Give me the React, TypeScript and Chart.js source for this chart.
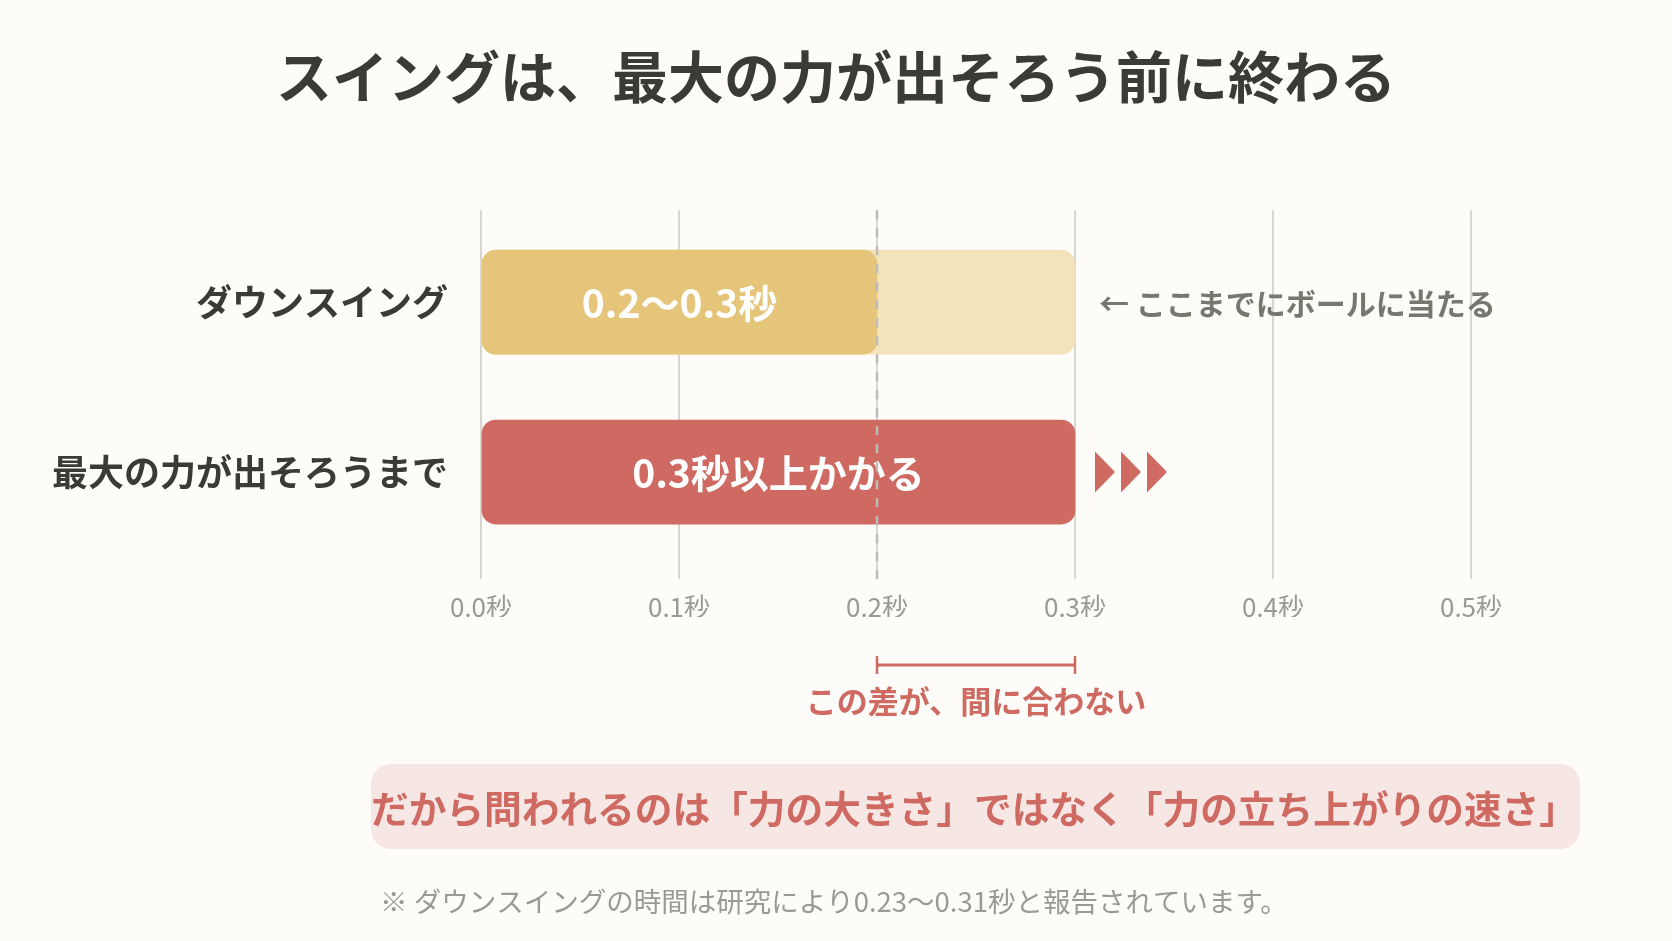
import React, { useEffect, useRef } from 'react';
import { Chart, registerables } from 'chart.js';

Chart.register(...registerables);

const FONT = "'Noto Sans CJK JP', 'Noto Sans', sans-serif";

// ---- data ----
const titleText = 'スイングは、最大の力が出そろう前に終わる';
const categories = ['ダウンスイング', '最大の力が出そろうまで'];
const mainValues = [0.2, 0.3];
const extentValues: (number | null)[] = [0.3, null];
const barLabels = ['0.2〜0.3秒', '0.3秒以上かかる'];
const xMin = 0;
const xMax = 0.5;
const xStep = 0.1;
const tickSuffix = '秒';
const hitLineValue = 0.2;
const gapRange = [0.2, 0.3];
const gapLabel = 'この差が、間に合わない';
const hitNote = '← ここまでにボールに当たる';
const messageText = 'だから問われるのは「力の大きさ」ではなく「力の立ち上がりの速さ」';
const footnoteText = '※ ダウンスイングの時間は研究により0.23〜0.31秒と報告されています。';
const arrowCount = 3;

// ---- styles ----
const BG = '#FDFCF8';
const DARK = '#3A3A36';
const YELLOW = '#E5C57A';
const LIGHT_YELLOW = '#F3E3BB';
const RED = '#CF6A62';
const GRID = '#D8D6D0';
const TICK = '#9A9A95';
const NOTE = '#77766F';
const PINK = '#F6E7E4';

function roundRect(ctx: CanvasRenderingContext2D, x: number, y: number, w: number, h: number, r: number) {
  ctx.beginPath();
  ctx.moveTo(x + r, y);
  ctx.lineTo(x + w - r, y);
  ctx.arcTo(x + w, y, x + w, y + r, r);
  ctx.lineTo(x + w, y + h - r);
  ctx.arcTo(x + w, y + h, x + w - r, y + h, r);
  ctx.lineTo(x + r, y + h);
  ctx.arcTo(x, y + h, x, y + h - r, r);
  ctx.lineTo(x, y + r);
  ctx.arcTo(x, y, x + r, y, r);
  ctx.closePath();
}

const overlayPlugin = {
  id: 'overlay',
  beforeDraw(chart: any) {
    const ctx = chart.ctx;
    ctx.save();
    ctx.fillStyle = BG;
    ctx.fillRect(0, 0, chart.width, chart.height);
    ctx.restore();
  },
  afterDatasetsDraw(chart: any) {
    const ctx: CanvasRenderingContext2D = chart.ctx;
    const xs = chart.scales.x;
    const area = chart.chartArea;
    const meta0 = chart.getDatasetMeta(0);
    const meta1 = chart.getDatasetMeta(1);
    ctx.save();

    // bar labels
    ctx.font = `bold 39px ${FONT}`;
    ctx.fillStyle = '#FFFFFF';
    ctx.textAlign = 'center';
    ctx.textBaseline = 'middle';
    meta0.data.forEach((bar: any, i: number) => {
      const cx = (bar.x + bar.base) / 2;
      ctx.fillText(barLabels[i], cx, bar.y + 1);
    });

    // arrows after the red bar
    const red = meta0.data[1];
    ctx.fillStyle = RED;
    for (let k = 0; k < arrowCount; k++) {
      const x0 = red.x + 20 + k * 26;
      ctx.beginPath();
      ctx.moveTo(x0, red.y - 20.5);
      ctx.lineTo(x0 + 20, red.y);
      ctx.lineTo(x0, red.y + 20.5);
      ctx.closePath();
      ctx.fill();
    }

    // note next to light bar
    const light = meta1.data[0];
    ctx.font = `bold 30px ${FONT}`;
    ctx.fillStyle = NOTE;
    ctx.textAlign = 'left';
    ctx.fillText(hitNote, light.x + 24, light.y + 1);

    // dashed line
    const hx = xs.getPixelForValue(hitLineValue);
    ctx.strokeStyle = '#BDBCB6';
    ctx.lineWidth = 2.5;
    ctx.setLineDash([9, 9]);
    ctx.beginPath();
    ctx.moveTo(hx, area.top - 7);
    ctx.lineTo(hx, area.bottom + 24);
    ctx.stroke();
    ctx.setLineDash([]);

    // bracket
    const bx1 = xs.getPixelForValue(gapRange[0]);
    const bx2 = xs.getPixelForValue(gapRange[1]);
    const by = 665;
    ctx.strokeStyle = RED;
    ctx.lineWidth = 3;
    ctx.beginPath();
    ctx.moveTo(bx1, by);
    ctx.lineTo(bx2, by);
    ctx.stroke();
    ctx.lineWidth = 2.5;
    ctx.beginPath();
    ctx.moveTo(bx1, by - 9);
    ctx.lineTo(bx1, by + 9);
    ctx.moveTo(bx2, by - 9);
    ctx.lineTo(bx2, by + 9);
    ctx.stroke();
    ctx.font = `bold 31px ${FONT}`;
    ctx.fillStyle = RED;
    ctx.textAlign = 'center';
    ctx.fillText(gapLabel, (bx1 + bx2) / 2, 701);

    // message box
    ctx.fillStyle = PINK;
    roundRect(ctx, 371, 764, 1209, 85, 20);
    ctx.fill();
    ctx.font = `bold 37.7px ${FONT}`;
    ctx.fillStyle = RED;
    ctx.textAlign = 'center';
    ctx.fillText(messageText, 974, 809);

    // footnote
    ctx.font = `27.5px ${FONT}`;
    ctx.fillStyle = TICK;
    ctx.textAlign = 'left';
    ctx.fillText(footnoteText, 380, 902);

    ctx.restore();
  },
};

export default function App() {
  const ref = useRef<HTMLCanvasElement>(null);

  useEffect(() => {
    document.body.style.margin = '0';
    document.body.style.background = BG;
    const canvas = ref.current!;
    const chart = new Chart(canvas, {
      type: 'bar',
      data: {
        labels: categories,
        datasets: [
          {
            data: mainValues,
            backgroundColor: [YELLOW, RED],
            grouped: false,
            barThickness: 104,
            borderRadius: 14,
            borderSkipped: false,
          } as any,
          {
            data: extentValues,
            backgroundColor: LIGHT_YELLOW,
            grouped: false,
            barThickness: 104,
            borderRadius: 14,
            borderSkipped: false,
          } as any,
        ],
      },
      options: {
        indexAxis: 'y',
        responsive: false,
        animation: false,
        devicePixelRatio: 1,
        layout: { padding: { left: 0, right: 0, top: 0, bottom: 324 } },
        plugins: {
          legend: { display: false },
          tooltip: { enabled: false },
          title: {
            display: true,
            text: titleText,
            color: DARK,
            font: { family: FONT, size: 56, weight: 'bold', lineHeight: 1.2 },
            padding: { top: 43, bottom: 100 },
          },
        },
        scales: {
          x: {
            type: 'linear',
            position: 'bottom',
            min: xMin,
            max: xMax,
            ticks: {
              stepSize: xStep,
              color: TICK,
              font: { family: FONT, size: 26 },
              padding: 13,
              callback: (v: any) => `${Number(v).toFixed(1)}${tickSuffix}`,
            },
            grid: { color: GRID, lineWidth: 2, drawTicks: true, tickLength: 22, tickColor: GRID },
            border: { display: false },
            afterFit: (s: any) => {
              s.height = 60;
            },
          },
          x2: {
            type: 'linear',
            position: 'top',
            min: xMin,
            max: xMax,
            ticks: { stepSize: xStep, display: false },
            grid: { drawOnChartArea: false, drawTicks: true, tickLength: 7, color: GRID, tickColor: GRID, lineWidth: 2 },
            border: { display: false },
            afterFit: (s: any) => {
              s.height = 7;
            },
          },
          y: {
            type: 'category',
            grid: { display: false, drawTicks: false },
            border: { display: false },
            ticks: {
              color: DARK,
              font: { family: FONT, size: 36, weight: 'bold' },
              padding: 33,
            },
            afterFit: (s: any) => {
              s.width = 481;
            },
          },
          yRight: {
            type: 'category',
            position: 'right',
            labels: categories,
            grid: { display: false, drawTicks: false },
            border: { display: false },
            ticks: { display: false },
            afterFit: (s: any) => {
              s.width = 201;
            },
          },
        },
      } as any,
      plugins: [overlayPlugin],
    });
    return () => chart.destroy();
  }, []);

  return (
    <canvas
      ref={ref}
      width={1672}
      height={941}
      style={{ display: 'block', width: 1672, height: 941 }}
    />
  );
}
